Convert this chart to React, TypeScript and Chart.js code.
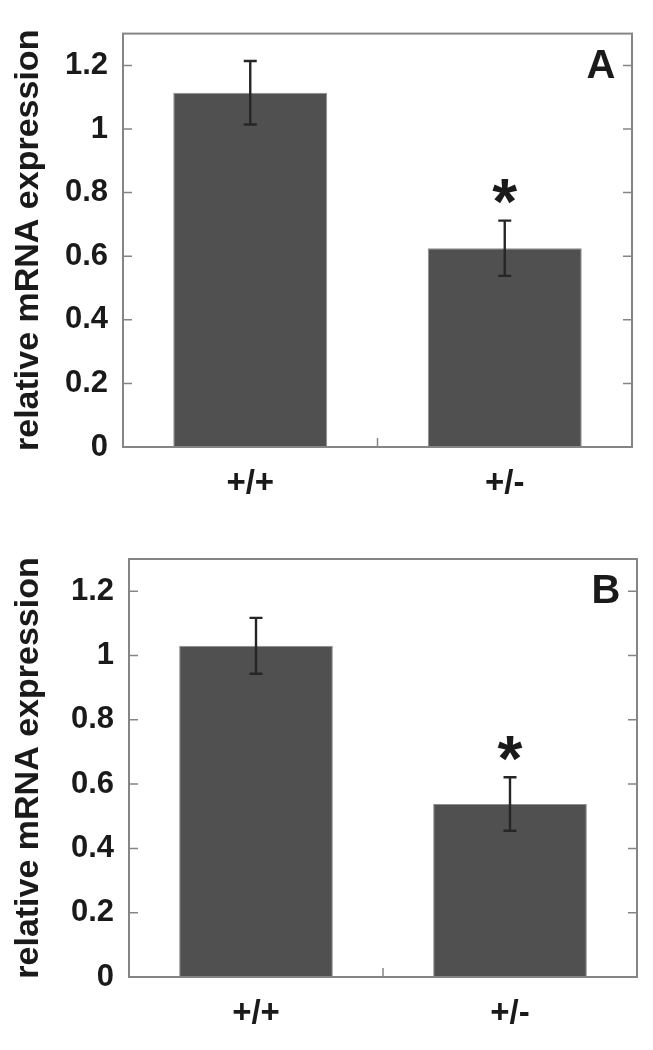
import React, { useEffect, useRef } from 'react';
import { Chart, registerables } from 'chart.js';

Chart.register(...registerables);

// ---- data ----
const categories = ['+/+', '+/-'];
const panelAValues = [1.114, 0.625];
const panelAErrors = [0.1, 0.087];
const panelBValues = [1.03, 0.538];
const panelBErrors = [0.087, 0.083];
const significanceMarks = ['', '*'];
const yTickValues = [0, 0.2, 0.4, 0.6, 0.8, 1, 1.2];
const yAxisMax = 1.3;
const yAxisTitle = 'relative mRNA expression';
const panelLetters = ['A', 'B'];

const FONT = '"Liberation Sans", Arial, Helvetica, sans-serif';
const PAGE_W = 653;

type PanelSpec = {
  letter: string;
  values: number[];
  errors: number[];
  canvasTop: number;
  canvasHeight: number;
  area: { left: number; top: number; right: number; bottom: number };
};

const panels: PanelSpec[] = [
  {
    letter: panelLetters[0],
    values: panelAValues,
    errors: panelAErrors,
    canvasTop: 0,
    canvasHeight: 520,
    area: { left: 123, top: 23, right: 632, bottom: 447 },
  },
  {
    letter: panelLetters[1],
    values: panelBValues,
    errors: panelBErrors,
    canvasTop: 520,
    canvasHeight: 530,
    area: { left: 129, top: 39, right: 637, bottom: 457 },
  },
];

function drawCenteredText(ctx: CanvasRenderingContext2D, text: string, cx: number, cy: number) {
  ctx.textAlign = 'center';
  ctx.textBaseline = 'alphabetic';
  const m = ctx.measureText(text);
  const baseline = cy + (m.actualBoundingBoxAscent - m.actualBoundingBoxDescent) / 2;
  ctx.fillText(text, cx, baseline);
}

const overlayPlugin = {
  id: 'overlay',
  afterDatasetsDraw(chart: any, _args: any, opts: any) {
    const { ctx, chartArea: a, scales } = chart;
    const xs = scales.x;
    const ys = scales.y;
    ctx.save();

    // error bars
    ctx.strokeStyle = '#262626';
    ctx.lineWidth = 2.4;
    const cap = 6.5;
    opts.values.forEach((v: number, i: number) => {
      const cx = xs.getPixelForValue(i);
      const top = ys.getPixelForValue(v + opts.errors[i]);
      const bot = ys.getPixelForValue(v - opts.errors[i]);
      ctx.beginPath();
      ctx.moveTo(cx, top);
      ctx.lineTo(cx, bot);
      ctx.moveTo(cx - cap, top);
      ctx.lineTo(cx + cap, top);
      ctx.moveTo(cx - cap, bot);
      ctx.lineTo(cx + cap, bot);
      ctx.stroke();

      const mark = significanceMarks[i];
      if (mark) {
        ctx.fillStyle = '#1a1a1a';
        ctx.font = `bold 64px ${FONT}`;
        drawCenteredText(ctx, mark, cx, top - 29);
      }
    });

    // frame
    ctx.strokeStyle = '#858585';
    ctx.lineWidth = 2;
    ctx.strokeRect(a.left, a.top, a.right - a.left, a.bottom - a.top);

    // inward ticks on left & right
    ctx.lineWidth = 1.5;
    const tl = 9;
    yTickValues.forEach((t) => {
      if (t === 0) return;
      const py = ys.getPixelForValue(t);
      ctx.beginPath();
      ctx.moveTo(a.left, py);
      ctx.lineTo(a.left + tl, py);
      ctx.moveTo(a.right, py);
      ctx.lineTo(a.right - tl, py);
      ctx.stroke();
    });
    // bottom tick between categories
    for (let i = 0; i < categories.length - 1; i++) {
      const px = (xs.getPixelForValue(i) + xs.getPixelForValue(i + 1)) / 2;
      ctx.beginPath();
      ctx.moveTo(px, a.bottom);
      ctx.lineTo(px, a.bottom - tl);
      ctx.stroke();
    }

    // panel letter
    ctx.fillStyle = '#1a1a1a';
    ctx.font = `bold 40px ${FONT}`;
    drawCenteredText(ctx, opts.letter, a.right - 31, a.top + 30);

    ctx.restore();
  },
};

function Panel({ spec }: { spec: PanelSpec }) {
  const ref = useRef<HTMLCanvasElement | null>(null);
  useEffect(() => {
    if (!ref.current) return;
    const { area, canvasHeight } = spec;
    const chart = new Chart(ref.current, {
      type: 'bar',
      data: {
        labels: categories,
        datasets: [
          {
            data: spec.values,
            backgroundColor: '#505050',
            borderColor: '#8e8e8e',
            borderWidth: 1,
            barPercentage: 0.605,
            categoryPercentage: 1,
          },
        ],
      },
      options: {
        responsive: false,
        maintainAspectRatio: false,
        animation: false,
        devicePixelRatio: 1,
        layout: {
          padding: { left: 0, top: area.top, right: PAGE_W - area.right, bottom: 0 },
        },
        plugins: {
          legend: { display: false },
          tooltip: { enabled: false },
          overlay: { values: spec.values, errors: spec.errors, letter: spec.letter },
        } as any,
        scales: {
          x: {
            grid: { display: false, drawTicks: false },
            border: { display: false },
            ticks: {
              color: '#1a1a1a',
              font: { family: FONT, size: 33, weight: 'bold' },
              padding: 17,
            },
            afterFit: (scale: any) => {
              scale.height = canvasHeight - area.bottom;
            },
          },
          y: {
            min: 0,
            max: yAxisMax,
            grid: { display: false, drawTicks: false },
            border: { display: false },
            afterBuildTicks: (scale: any) => {
              scale.ticks = yTickValues.map((v) => ({ value: v }));
            },
            ticks: {
              color: '#1a1a1a',
              font: { family: FONT, size: 31, weight: 'bold' },
              padding: 15,
              callback: (v: any) => String(v),
            },
            title: {
              display: true,
              text: yAxisTitle,
              color: '#1a1a1a',
              font: { family: FONT, size: 34, weight: 'bold' },
              padding: { top: 8, bottom: 0 },
            },
            afterFit: (scale: any) => {
              scale.width = area.left;
            },
          },
        },
      },
      plugins: [overlayPlugin],
    });
    return () => chart.destroy();
  }, [spec]);

  return (
    <canvas
      ref={ref}
      width={PAGE_W}
      height={spec.canvasHeight}
      style={{
        position: 'absolute',
        left: 0,
        top: spec.canvasTop,
        width: PAGE_W,
        height: spec.canvasHeight,
      }}
    />
  );
}

export default function App() {
  return (
    <div
      style={{
        position: 'absolute',
        left: 0,
        top: 0,
        width: PAGE_W,
        height: 1050,
        background: '#ffffff',
        overflow: 'hidden',
      }}
    >
      {panels.map((p) => (
        <Panel key={p.letter} spec={p} />
      ))}
    </div>
  );
}
